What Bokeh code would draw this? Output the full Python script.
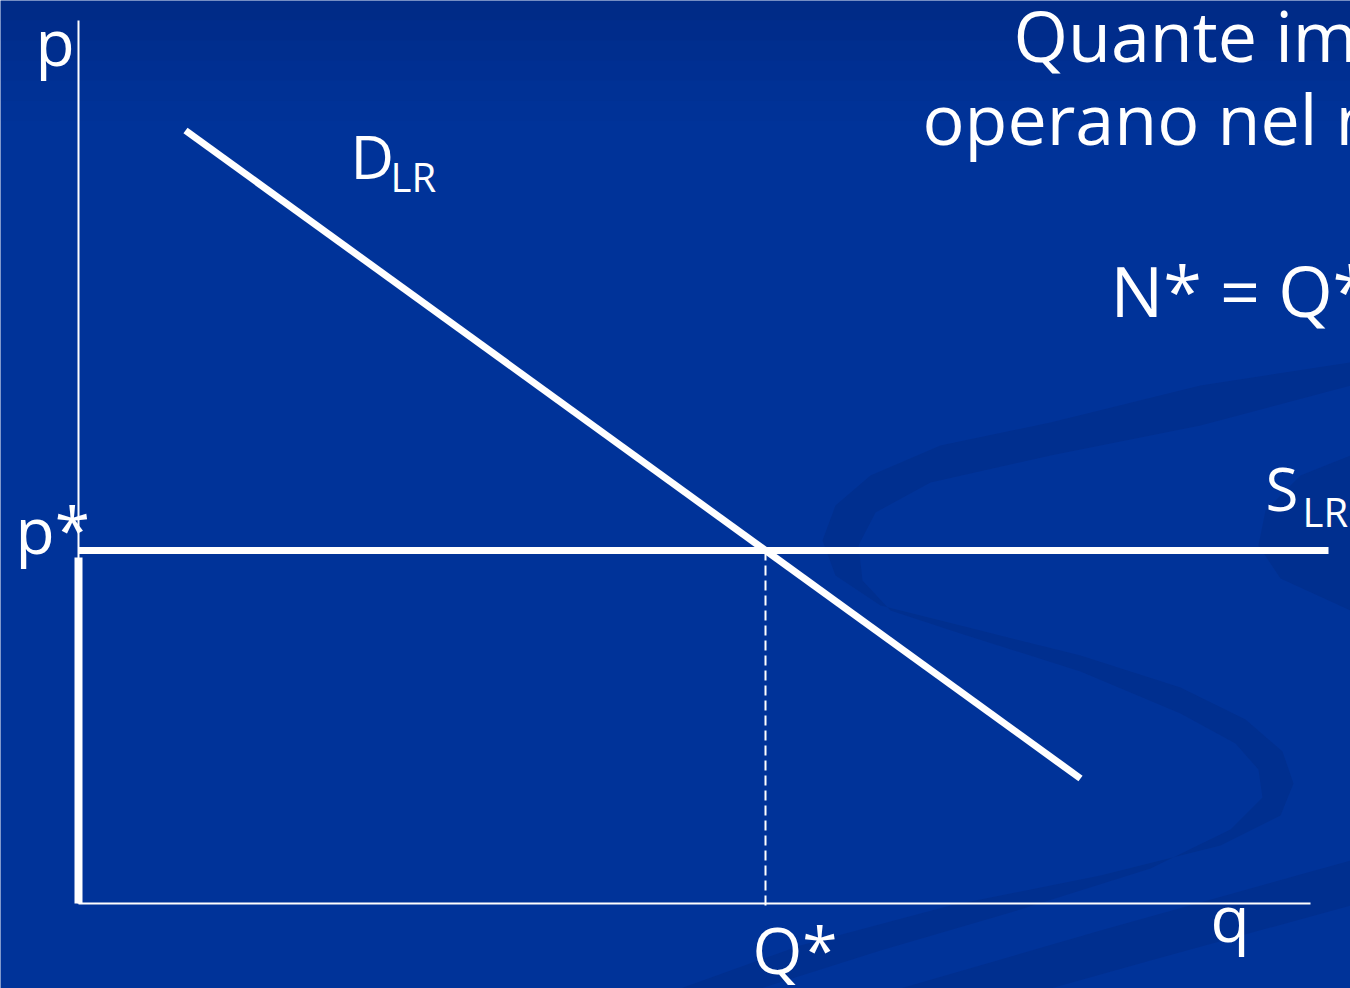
from bokeh.plotting import figure
from bokeh.models import Range1d
from bokeh.core.properties import value
from bokeh.embed import file_html
from bokeh.resources import INLINE

# ---- economic quantities (q on the horizontal axis, p on the vertical) ----
q_axis_end = 123.2
p_axis_end = 88.3
p_star = 35.3
Q_star = 68.7
demand_q = [10.7, 100.2]
demand_p = [77.3, 12.5]
supply_q = [0.0, 125.0]
supply_p = [p_star, p_star]
floor_q = [0.0, 0.0]
floor_p = [0.0, 34.6]

# ---- labels ----
axis_label_text = ["p", "p*", "Q*", "q"]
axis_label_q = [-4.3, -6.3, 67.4, 113.2]
axis_label_p = [86.2, 37.4, -4.6, -1.4]

curve_main = ["D", "S"]
curve_main_q = [27.2, 118.7]
curve_main_p = [74.8, 41.6]
curve_sub = ["LR", "LR"]
curve_sub_q = [31.2, 122.4]
curve_sub_p = [72.7, 39.2]

title_lines = ["Quante imprese", "operano nel mercato?", "N* = Q*/q*"]
title_q = [93.5, 84.4, 103.2]
title_p = [86.9, 78.6, 61.4]

# ---- background ribbon outlines ----
ribbon_a_q = [127.2, 112.2, 97.2, 86.2, 79.2, 75.7, 74.4, 75.7, 80.2, 88.2,
              100.2, 110.2, 116.7, 120.4, 121.5, 120.2, 114.2, 102.2, 87.2, 72.2, 60.2,
              68.2, 80.2, 93.2, 107.2, 115.2, 118.4, 118.0, 115.7, 110.2, 100.2, 88.2,
              81.2, 78.4, 78.0, 79.7, 85.2, 97.2, 112.2, 127.2]
ribbon_a_p = [54.1, 51.8, 48.1, 45.8, 42.8, 39.8, 36.3, 32.8, 29.8, 27.8,
              24.8, 21.6, 18.4, 15.2, 12.0, 8.8, 5.8, 2.8, -0.2, -4.2, -8.5,
              -8.5, -4.7, -0.9, 3.5, 7.4, 10.6, 13.4, 16.0, 19.0, 23.2, 27.0,
              29.3, 32.3, 35.8, 39.1, 42.1, 44.8, 47.8, 51.8]
ribbon_b_q = [82.2, 102.2, 127.2, 127.2, 107.2, 97.2]
ribbon_b_p = [-8.5, -2.7, 4.3, -0.2, -5.7, -8.5]
ribbon_c_q = [127.2, 122.2, 118.7, 118.0, 120.2, 127.2]
ribbon_c_p = [44.8, 42.8, 39.3, 35.8, 32.5, 29.3]

BG = "#003399"
RIBBON = "#002D8A"
WHITE = "#FFFFFF"
FONT = value("Open Sans")

p = figure(width=1350, height=988, output_backend="svg", toolbar_location=None,
           x_range=Range1d(-7.8, 127.2), y_range=Range1d(-8.5, 90.3),
           min_border=0, background_fill_color=BG, border_fill_color=BG)
p.outline_line_color = None
p.axis.visible = False
p.grid.visible = False

# darker band at the top of the slide
top_steps = [90.3, 88.3, 86.3, 84.3, 82.3, 80.3, 78.3]
top_alpha = [0.30, 0.24, 0.18, 0.12, 0.07, 0.03]
p.quad(left=-7.8, right=127.2, top=top_steps[:-1], bottom=top_steps[1:],
       fill_color="#001A60", fill_alpha=top_alpha, line_color=None)

# decorative ribbons
p.patch(ribbon_a_q, ribbon_a_p, fill_color=RIBBON, fill_alpha=0.7, line_color=None)
p.patch(ribbon_b_q, ribbon_b_p, fill_color=RIBBON, fill_alpha=0.7, line_color=None)
p.patch(ribbon_c_q, ribbon_c_p, fill_color=RIBBON, fill_alpha=0.7, line_color=None)

# axes
p.segment(x0=[0, 0], y0=[0, 0], x1=[q_axis_end, 0], y1=[0, p_axis_end],
          line_color=WHITE, line_width=2)

# equilibrium quantity guide
p.segment(x0=[Q_star], y0=[p_star], x1=[Q_star], y1=[-0.7],
          line_color=WHITE, line_width=2, line_dash="10 5")

# long-run supply, price floor and demand
p.line(supply_q, supply_p, line_color=WHITE, line_width=7, line_cap="butt")
p.line(floor_q, floor_p, line_color=WHITE, line_width=8, line_cap="butt")
p.line(demand_q, demand_p, line_color=WHITE, line_width=7, line_cap="butt")

# labels
p.text(x=axis_label_q, y=axis_label_p, text=axis_label_text, text_color=WHITE,
       text_font=FONT, text_font_size="64px", text_baseline="alphabetic")
p.text(x=curve_main_q, y=curve_main_p, text=curve_main, text_color=WHITE,
       text_font=FONT, text_font_size="60px", text_baseline="alphabetic")
p.text(x=curve_sub_q, y=curve_sub_p, text=curve_sub, text_color=WHITE,
       text_font=FONT, text_font_size="40px", text_baseline="alphabetic")
p.text(x=title_q, y=title_p, text=title_lines, text_color=WHITE,
       text_font=FONT, text_font_size="70px", text_baseline="alphabetic")

open("out.html", "w").write(file_html(p, INLINE))
